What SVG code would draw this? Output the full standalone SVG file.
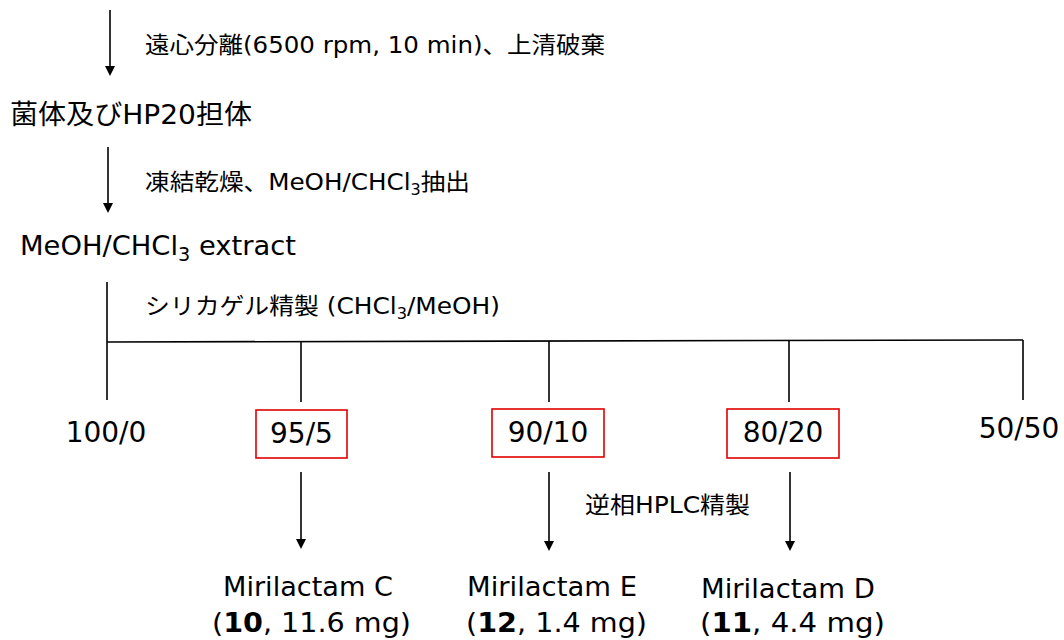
<svg xmlns="http://www.w3.org/2000/svg" width="1064" height="640" viewBox="0 0 1064 640">
<style>
text{font-family:"DejaVu Sans","Noto Sans CJK JP",sans-serif;fill:#000}
.lbl{font-size:23px}
.big{font-size:27px}
.num{font-size:28px}
.cmp{font-size:27px}
.ln{stroke:#000;stroke-width:1.6;fill:none}
.head{fill:#000}
.box{stroke:#e00000;stroke-width:1.6;fill:#fff}
</style>
<g id="connectors">
<line class="ln" x1="110" y1="10" x2="110" y2="66"/>
<path class="head" d="M105,66 L115,66 L110,76 Z"/>
<line class="ln" x1="108" y1="147" x2="108" y2="203"/>
<path class="head" d="M103,203 L113,203 L108,213 Z"/>
<line class="ln" x1="107" y1="282" x2="107" y2="400"/>
<line class="ln" x1="107" y1="342" x2="1023" y2="340"/>
<line class="ln" x1="301" y1="342" x2="301" y2="402"/>
<line class="ln" x1="549" y1="341" x2="549" y2="402"/>
<line class="ln" x1="789" y1="341" x2="789" y2="402"/>
<line class="ln" x1="1023" y1="340" x2="1023" y2="400"/>
<line class="ln" x1="301" y1="472" x2="301" y2="539"/>
<path class="head" d="M296,539 L306,539 L301,549 Z"/>
<line class="ln" x1="549" y1="472" x2="549" y2="541"/>
<path class="head" d="M544,541 L554,541 L549,551 Z"/>
<line class="ln" x1="790" y1="472" x2="790" y2="541"/>
<path class="head" d="M785,541 L795,541 L790,551 Z"/>
</g>
<g id="step1-label"><text class="lbl" x="145" y="53" textLength="460" lengthAdjust="spacingAndGlyphs">遠心分離(6500 rpm, 10 min)、上清破棄</text></g>
<g id="node-cells"><text class="big" x="10" y="124" textLength="242" lengthAdjust="spacingAndGlyphs">菌体及びHP20担体</text></g>
<g id="step2-label"><text class="lbl" x="145" y="190" textLength="325" lengthAdjust="spacingAndGlyphs">凍結乾燥、MeOH/CHCl<tspan font-size="15" dy="5">3</tspan><tspan dy="-5">抽出</tspan></text></g>
<g id="node-extract"><text class="big" x="20" y="255" textLength="276" lengthAdjust="spacingAndGlyphs">MeOH/CHCl<tspan font-size="19" dy="6">3</tspan><tspan dy="-6"> extract</tspan></text></g>
<g id="step3-label"><text class="lbl" x="145" y="314" textLength="355" lengthAdjust="spacingAndGlyphs">シリカゲル精製 (CHCl<tspan font-size="15" dy="5">3</tspan><tspan dy="-5">/MeOH)</tspan></text></g>
<g id="f100"><text class="num" x="106" y="442" text-anchor="middle">100/0</text></g>
<g id="f95"><rect class="box" x="256" y="410" width="91" height="48"/><text class="num" x="301.5" y="443" text-anchor="middle">95/5</text></g>
<g id="f90"><rect class="box" x="492" y="409" width="112" height="48"/><text class="num" x="548" y="442" text-anchor="middle">90/10</text></g>
<g id="f80"><rect class="box" x="727" y="409" width="112" height="49"/><text class="num" x="783" y="442" text-anchor="middle">80/20</text></g>
<g id="f50"><text class="num" x="1019" y="438" text-anchor="middle">50/50</text></g>
<g id="hplc-label"><text class="lbl" x="585" y="513" textLength="165" lengthAdjust="spacingAndGlyphs">逆相HPLC精製</text></g>
<g id="cmpC"><text class="cmp" x="223" y="596" textLength="170" lengthAdjust="spacingAndGlyphs">Mirilactam C</text><text class="cmp" x="212" y="632" textLength="199" lengthAdjust="spacingAndGlyphs">(<tspan font-weight="bold">10</tspan>, 11.6 mg)</text></g>
<g id="cmpE"><text class="cmp" x="467" y="596" textLength="170" lengthAdjust="spacingAndGlyphs">Mirilactam E</text><text class="cmp" x="466" y="632" textLength="181" lengthAdjust="spacingAndGlyphs">(<tspan font-weight="bold">12</tspan>, 1.4 mg)</text></g>
<g id="cmpD"><text class="cmp" x="701" y="598" textLength="174" lengthAdjust="spacingAndGlyphs">Mirilactam D</text><text class="cmp" x="700" y="632" textLength="185" lengthAdjust="spacingAndGlyphs">(<tspan font-weight="bold">11</tspan>, 4.4 mg)</text></g>
</svg>
